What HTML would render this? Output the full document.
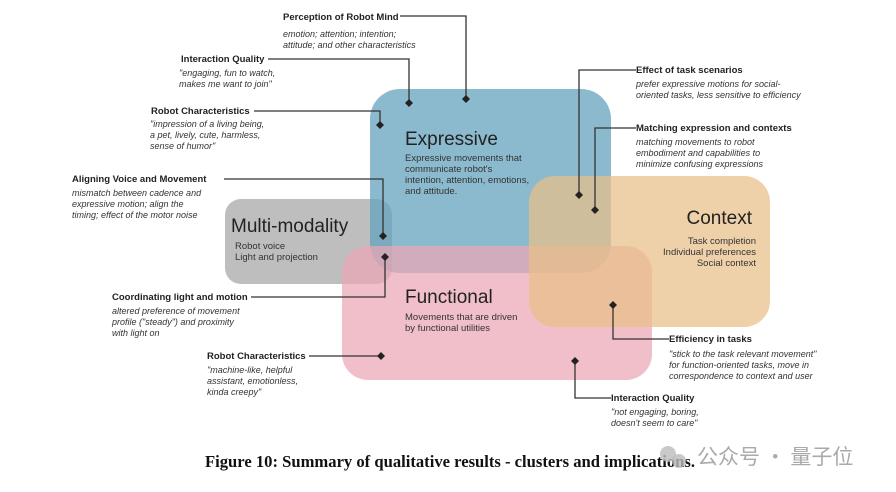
<!DOCTYPE html>
<html><head><meta charset="utf-8"><style>
html,body{margin:0;padding:0;background:#fff;}
svg{display:block;}
.b{font-family:"Liberation Sans",sans-serif;font-weight:bold;font-size:9.5px;fill:#222;}
.i{font-family:"Liberation Sans",sans-serif;font-style:italic;font-size:9px;fill:#333;}
.t{font-family:"Liberation Sans",sans-serif;font-size:19px;fill:#222;}
.d{font-family:"Liberation Sans",sans-serif;font-size:9.5px;fill:#333;}
</style></head><body>
<svg width="896" height="492" viewBox="0 0 896 492" xmlns="http://www.w3.org/2000/svg">
<rect width="896" height="492" fill="#fff"/>
<rect x="225" y="199" width="167" height="85" rx="16" fill="#a8a8a8" opacity="0.75"/>
<rect x="370" y="89" width="241" height="184" rx="30" fill="#64a2bc" opacity="0.75"/>
<rect x="342" y="246" width="310" height="134" rx="26" fill="#eca6b6" opacity="0.72"/>
<rect x="529" y="176" width="241" height="151" rx="26" fill="#e9bf88" opacity="0.72"/>

<text class="t" x="405" y="145">Expressive</text>
<text class="d" x="405" y="161">Expressive movements that</text>
<text class="d" x="405" y="172">communicate robot's</text>
<text class="d" x="405" y="183">intention, attention, emotions,</text>
<text class="d" x="405" y="194">and attitude.</text>

<text class="t" x="231" y="232">Multi-modality</text>
<text class="d" x="235" y="249">Robot voice</text>
<text class="d" x="235" y="260">Light and projection</text>

<text class="t" x="405" y="303">Functional</text>
<text class="d" x="405" y="320">Movements that are driven</text>
<text class="d" x="405" y="331">by functional utilities</text>

<text class="t" x="752" y="224" text-anchor="end">Context</text>
<text class="d" x="756" y="244" text-anchor="end">Task completion</text>
<text class="d" x="756" y="255" text-anchor="end">Individual preferences</text>
<text class="d" x="756" y="266" text-anchor="end">Social context</text>

<g stroke="#333" stroke-width="1.3" fill="none">
<polyline points="400,16 466,16 466,99"/>
<polyline points="268,59 409,59 409,103"/>
<polyline points="254,111 380,111 380,125"/>
<polyline points="224,179 383,179 383,236"/>
<polyline points="251,297 385,297 385,257"/>
<polyline points="309,356 381,356"/>
<polyline points="636,70 579,70 579,195"/>
<polyline points="636,128 595,128 595,210"/>
<polyline points="613,305 613,339 669,339"/>
<polyline points="575,361 575,398 611,398"/>
</g>
<g fill="#222">
<path d="M466,95 l4,4 -4,4 -4,-4z"/>
<path d="M409,99 l4,4 -4,4 -4,-4z"/>
<path d="M380,121 l4,4 -4,4 -4,-4z"/>
<path d="M383,232 l4,4 -4,4 -4,-4z"/>
<path d="M385,253 l4,4 -4,4 -4,-4z"/>
<path d="M381,352 l4,4 -4,4 -4,-4z"/>
<path d="M579,191 l4,4 -4,4 -4,-4z"/>
<path d="M595,206 l4,4 -4,4 -4,-4z"/>
<path d="M613,301 l4,4 -4,4 -4,-4z"/>
<path d="M575,357 l4,4 -4,4 -4,-4z"/>
</g>

<text class="b" x="283" y="20">Perception of Robot Mind</text>
<text class="i" x="283" y="37">emotion; attention; intention;</text>
<text class="i" x="283" y="48">attitude; and other characteristics</text>

<text class="b" x="181" y="62">Interaction Quality</text>
<text class="i" x="179" y="76">"engaging, fun to watch,</text>
<text class="i" x="179" y="87">makes me want to join"</text>

<text class="b" x="151" y="114">Robot Characteristics</text>
<text class="i" x="150" y="127">"impression of a living being,</text>
<text class="i" x="150" y="138">a pet, lively, cute, harmless,</text>
<text class="i" x="150" y="149">sense of humor"</text>

<text class="b" x="72" y="182">Aligning Voice and Movement</text>
<text class="i" x="72" y="196">mismatch between cadence and</text>
<text class="i" x="72" y="207">expressive motion; align the</text>
<text class="i" x="72" y="218">timing; effect of the motor noise</text>

<text class="b" x="112" y="300">Coordinating light and motion</text>
<text class="i" x="112" y="314">altered preference of movement</text>
<text class="i" x="112" y="325">profile ("steady") and proximity</text>
<text class="i" x="112" y="336">with light on</text>

<text class="b" x="207" y="359">Robot Characteristics</text>
<text class="i" x="207" y="373">"machine-like, helpful</text>
<text class="i" x="207" y="384">assistant, emotionless,</text>
<text class="i" x="207" y="395">kinda creepy"</text>

<text class="b" x="636" y="73">Effect of task scenarios</text>
<text class="i" x="636" y="87">prefer expressive motions for social-</text>
<text class="i" x="636" y="98">oriented tasks, less sensitive to efficiency</text>

<text class="b" x="636" y="131">Matching expression and contexts</text>
<text class="i" x="636" y="145">matching movements to robot</text>
<text class="i" x="636" y="156">embodiment and capabilities to</text>
<text class="i" x="636" y="167">minimize confusing expressions</text>

<text class="b" x="669" y="342">Efficiency in tasks</text>
<text class="i" x="669" y="357">"stick to the task relevant movement"</text>
<text class="i" x="669" y="368">for function-oriented tasks, move in</text>
<text class="i" x="669" y="379">correspondence to context and user</text>

<text class="b" x="611" y="401">Interaction Quality</text>
<text class="i" x="611" y="415">"not engaging, boring,</text>
<text class="i" x="611" y="426">doesn't seem to care"</text>

<text x="450" y="467" text-anchor="middle" textLength="490" lengthAdjust="spacingAndGlyphs" style="font-family:'Liberation Serif',serif;font-weight:bold;font-size:16.5px;fill:#111;">Figure 10: Summary of qualitative results - clusters and implications.</text>

<circle cx="668" cy="454" r="8" fill="#bbb" opacity="0.8"/>
<circle cx="679" cy="461" r="7" fill="#bbb" opacity="0.8"/>
<text x="697" y="464" style="font-family:'Noto Sans CJK SC',sans-serif;font-size:21px;fill:#aaa;">公众号 · 量子位</text>
</svg>
</body></html>
